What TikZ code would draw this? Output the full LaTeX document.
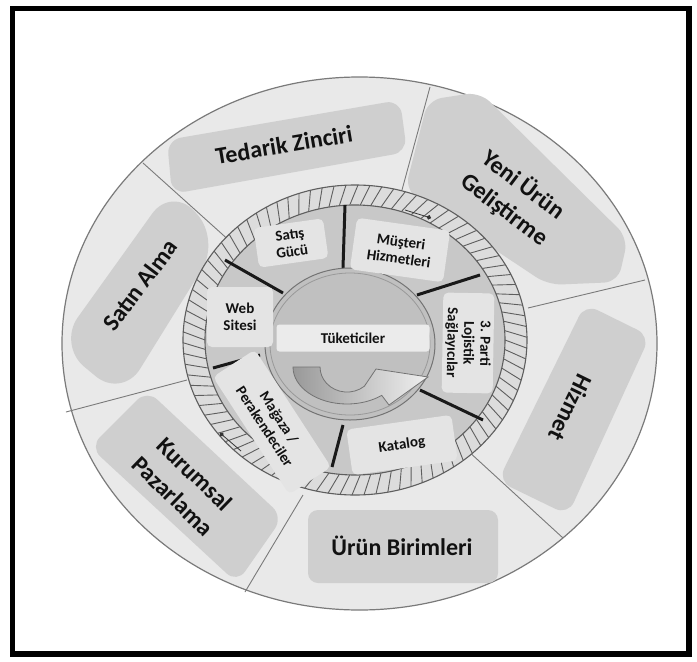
\documentclass[tikz,border=0pt]{standalone}
\usepackage{fontspec}
\setmainfont{Carlito}
\usetikzlibrary{arrows.meta}
\definecolor{bandfill}{HTML}{E9E9E9}
\definecolor{boxgray}{HTML}{CFCFCF}
\definecolor{segfill}{HTML}{C8C8C8}
\definecolor{ringfill}{HTML}{DCDCDC}
\definecolor{lblfill}{HTML}{E4E4E4}
\definecolor{txt}{HTML}{111111}
\definecolor{divgray}{HTML}{7A7A7A}
\definecolor{hatchgray}{HTML}{5E5E5E}
\definecolor{coregray}{HTML}{C0C0C0}
\begin{document}
\begin{tikzpicture}[x=1pt,y=-1pt,
  bigbox/.style={fill=boxgray, rounded corners=14pt},
  biglbl/.style={font=\bfseries\fontsize{24}{31}\selectfont, align=center, text=txt, inner sep=0pt},
  smallbox/.style={fill=lblfill, rounded corners=5pt, inner sep=1pt, font=\bfseries\fontsize{15}{17}\selectfont, align=center, text=txt},
  divider/.style={draw=divgray, line width=0.9pt},
  spoke/.style={draw=black!90, line width=3pt},
  hatch/.style={draw=hatchgray, line width=0.9pt},
  ringarrow/.style={draw=black!80, line width=0.8pt, -{Circle[length=4.5pt]}}
]
\useasboundingbox (0,0) rectangle (697,662);
\fill[white] (0,0) rectangle (697,662);

% outer disc
\filldraw[fill=bandfill, draw=divgray, line width=1.2pt] (359.5,343.5) ellipse [x radius=297.5, y radius=266.5];

% outer dividers
\coordinate (oa1) at (430,87);  \coordinate (oa2) at (402,190);
\coordinate (ob1) at (143,163); \coordinate (ob2) at (232,243);
\coordinate (oc1) at (66,412);  \coordinate (oc2) at (187,380);
\coordinate (od1) at (245,592); \coordinate (od2) at (303,495);
\coordinate (oe1) at (563,538); \coordinate (oe2) at (467,450);
\coordinate (of1) at (645,280); \coordinate (of2) at (528,308);
\foreach \p in {oa,ob,oc,od,oe,of} \draw[divider] (\p1) -- (\p2);

% outer boxes
\fill[bigbox] (167,140) -- (400,100) -- (407,152) -- (172,194) -- cycle;
\fill[bigbox, rounded corners=34pt] (172,186) -- (220,240) -- (122,398) -- (58,345) -- cycle;
\fill[bigbox] (147,390) -- (283,517) -- (237,583) -- (90,447) -- cycle;
\fill[bigbox, rounded corners=10pt] (308,510) rectangle (498,583);
\fill[bigbox] (585,304) -- (650,336) -- (568,515) -- (498,481) -- cycle;
\fill[bigbox] (428,100) -- (480,92) -- (628,238) -- (618,282) -- (548,285) -- (405,190) -- cycle;

\node[biglbl, rotate=9.6] (tedarik) at (284,145) {Tedarik Zinciri};
\node[biglbl, rotate=-37] (yeni) at (514,197) {Yeni Ürün\\Geliştirme};
\node[biglbl, rotate=53] (satin) at (140,285) {Satın Alma};
\node[biglbl, rotate=-44] (kurumsal) at (184,485) {Kurumsal\\Pazarlama};
\node[biglbl] (urun) at (402,546) {Ürün Birimleri};
\node[biglbl, rotate=-116] (hizmet) at (571,408) {Hizmet};

% segment disc
\fill[segfill] (355,340) ellipse [x radius=150, y radius=135];
% hatched ring
\fill[ringfill, even odd rule] (355,340) ellipse [x radius=172, y radius=155] (355,340) ellipse [x radius=150, y radius=135];
\foreach \a in {0,4,...,356} \draw[hatch] ({355+150*cos(\a)},{340+135*sin(\a)}) -- ({355+172*cos(\a+3)},{340+155*sin(\a+3)});
\draw[draw=hatchgray, line width=1.1pt] (355,340) ellipse [x radius=172, y radius=155];
\draw[draw=hatchgray, line width=1.1pt] (355,340) ellipse [x radius=150, y radius=135];

% spokes
\coordinate (s1a) at (345,205); \coordinate (s1b) at (343,268);
\coordinate (s2a) at (225,260); \coordinate (s2b) at (283,293);
\coordinate (s3a) at (213,368); \coordinate (s3b) at (260,355);
\coordinate (s4a) at (332,467); \coordinate (s4b) at (343,425);
\coordinate (s5a) at (483,420); \coordinate (s5b) at (420,390);
\coordinate (s6a) at (480,275); \coordinate (s6b) at (417,295);
\foreach \p in {s1,s2,s3,s4,s5,s6} \draw[spoke] (\p a) -- (\p b);

% core circle
\filldraw[fill=coregray, draw=black!55, line width=1pt] (350,344) ellipse [x radius=85, y radius=76];
\draw[draw=black!40, line width=0.8pt] (350,344) ellipse [x radius=80, y radius=71];

% curved arrow
\draw[draw=black!55, line width=0.8pt, left color=black!40, right color=black!6]
  (293,367) arc[start angle=180, end angle=50, x radius=54, y radius=37]
  -- (389,405) -- (428,377) -- (376,369) -- (364.4,386.2)
  arc[start angle=50, end angle=180, x radius=27, y radius=25] -- cycle;

% consumers bar
\node[smallbox, fill=black!8, rounded corners=3pt, minimum width=153, minimum height=27] (tuk) at (353,338) {Tüketiciler};

% segment labels
\node[smallbox, minimum width=70, minimum height=40, rotate=8] (satis) at (291,243) {Satış\\Gücü};
\node[smallbox, minimum width=94, minimum height=52, rotate=-8] (musteri) at (400,250) {Müşteri\\Hizmetleri};
\node[smallbox, minimum width=100, minimum height=51, rotate=-91, font=\bfseries\fontsize{15}{16.5}\selectfont] (parti) at (468,343) {3. Parti\\Lojistik\\Sağlayıcılar};
\node[smallbox, minimum width=66, minimum height=60] (web) at (240,317) {Web\\Sitesi};
\node[smallbox, minimum width=140, minimum height=50, rotate=-57] (magaza) at (272,422) {Mağaza /\\Perakendeciler};
\node[smallbox, minimum width=106, minimum height=46, rotate=8] (katalog) at (402,445) {Katalog};

% ring arrows
\coordinate (ra1) at (405,210); \coordinate (ra2) at (431,218);
\coordinate (rb1) at (241,451); \coordinate (rb2) at (220,433);
\draw[ringarrow] (ra1) -- (ra2);
\draw[ringarrow] (rb1) -- (rb2);

% frame
\draw[black, line width=5.5pt] (12.5,8.5) rectangle (689,654);
\end{tikzpicture}
\end{document}
